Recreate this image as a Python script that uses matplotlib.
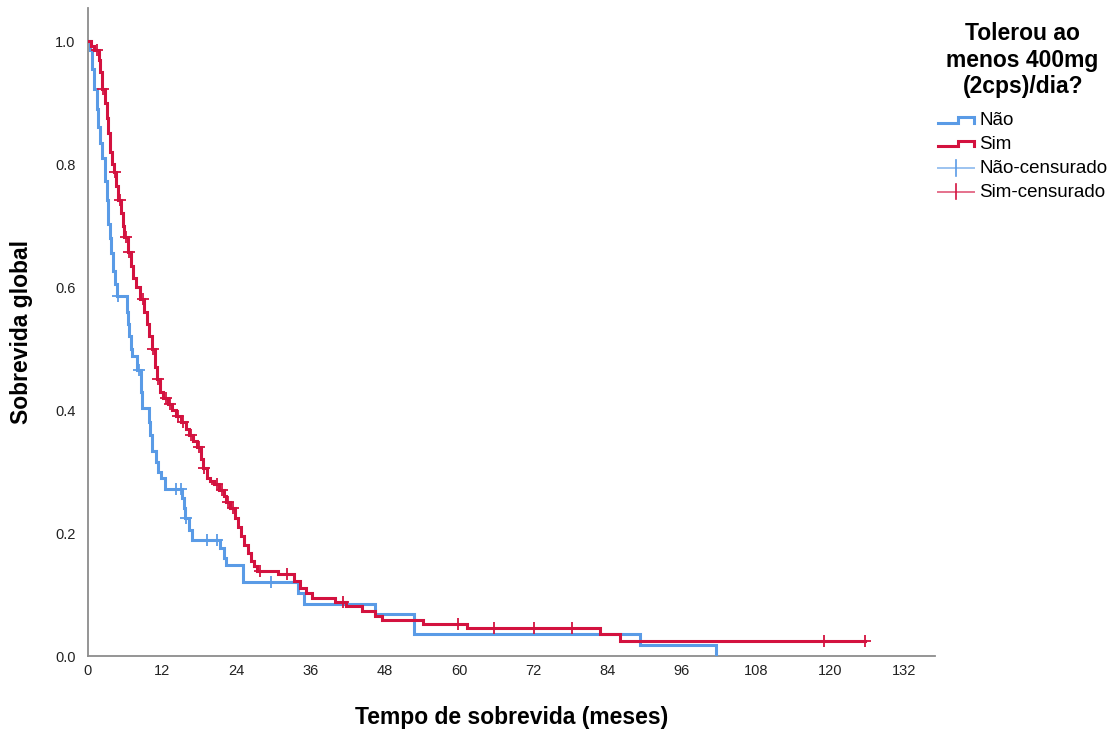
import numpy as np
import matplotlib
matplotlib.use("Agg")
import matplotlib.pyplot as plt
from matplotlib.lines import Line2D
from matplotlib.legend_handler import HandlerBase

plt.rcParams['font.family'] = ['Liberation Sans', 'DejaVu Sans']

# ---------------- data ----------------
nao_event_t = [0.3, 0.6, 0.9, 1.4, 1.6, 2.0, 2.3, 2.7, 3.0, 3.2, 3.3, 3.6, 3.8, 4.0, 4.4, 4.7,
               6.3, 6.5, 6.7, 6.9, 7.1, 8.0, 8.6, 8.8, 9.8, 10.0, 10.3, 11.0, 11.3, 11.8, 12.4,
               15.2, 15.5, 15.7, 16.3, 16.8, 21.4, 22.0, 22.3, 25.1, 34.0, 35.0, 46.4, 52.8,
               89.3, 101.5]
nao_surv = [0.985, 0.955, 0.923, 0.89, 0.86, 0.835, 0.81, 0.773, 0.741, 0.72, 0.703, 0.68, 0.656,
            0.627, 0.605, 0.585, 0.56, 0.54, 0.52, 0.50, 0.488, 0.466, 0.43, 0.404, 0.38, 0.36,
            0.334, 0.315, 0.30, 0.29, 0.272, 0.257, 0.241, 0.225, 0.205, 0.189, 0.176, 0.16,
            0.148, 0.12, 0.103, 0.085, 0.068, 0.036, 0.018, 0.0]
nao_cens_t = [4.9, 8.2, 14.3, 15.0, 15.9, 19.3, 20.8, 29.6]

sim_event_t = [0.5, 1.0, 1.8, 2.0, 2.2, 2.7, 3.0, 3.3, 3.6, 3.9, 4.2, 4.6, 4.8, 5.3, 5.6, 5.9,
               6.4, 6.9, 7.3, 7.7, 8.4, 9.1, 9.5, 9.9, 10.3, 10.8, 11.1, 11.6, 12.2, 13.0, 13.6,
               14.2, 15.0, 15.8, 16.3, 17.0, 17.6, 18.3, 18.6, 19.2, 19.8, 20.4, 21.2, 22.0,
               22.4, 23.0, 23.7, 24.2, 24.8, 25.3, 25.8, 26.3, 26.8, 27.3, 30.7, 33.3, 34.3,
               35.3, 36.3, 40.0, 41.8, 44.3, 46.4, 47.5, 54.2, 61.3, 82.8, 86.0]
sim_surv = [0.993, 0.985, 0.97, 0.95, 0.923, 0.90, 0.875, 0.85, 0.82, 0.80, 0.787, 0.765, 0.741,
            0.72, 0.70, 0.681, 0.657, 0.635, 0.615, 0.60, 0.581, 0.56, 0.54, 0.52, 0.50, 0.47,
            0.45, 0.43, 0.42, 0.41, 0.40, 0.39, 0.38, 0.37, 0.36, 0.35, 0.34, 0.32, 0.305, 0.29,
            0.285, 0.28, 0.27, 0.26, 0.25, 0.24, 0.225, 0.21, 0.195, 0.18, 0.168, 0.155, 0.147,
            0.138, 0.134, 0.122, 0.111, 0.103, 0.094, 0.088, 0.081, 0.073, 0.065, 0.058, 0.052,
            0.046, 0.036, 0.024]
sim_cens_t = [1.5, 2.4, 4.4, 5.1, 6.1, 6.6, 8.9, 10.5, 11.3, 12.6, 13.3, 14.6, 15.4, 16.6, 18.0,
              18.8, 20.9, 21.7, 22.6, 23.4, 27.8, 32.2, 41.3, 59.9, 65.7, 72.2, 78.3, 119.0, 125.6]

x_ticks = [0, 12, 24, 36, 48, 60, 72, 84, 96, 108, 120, 132]
y_ticks = [0.0, 0.2, 0.4, 0.6, 0.8, 1.0]

group_labels = ["Não", "Sim"]
cens_labels = ["Não-censurado", "Sim-censurado"]
legend_title = "Tolerou ao\nmenos 400mg\n(2cps)/dia?"
x_label = "Tempo de sobrevida (meses)"
y_label = "Sobrevida global"

BLUE = "#5a9be6"
RED = "#d3123f"

# ---------------- figure ----------------
fig = plt.figure(figsize=(11.14, 7.32), dpi=100)
ax = fig.add_axes([88 / 1114, 1 - 656 / 732, (935 - 88) / 1114, (656 - 8) / 732])


def draw_group(ev_t, surv, cens_t, color):
    ev_t = np.asarray(ev_t, float)
    surv = np.asarray(surv, float)
    end = max(ev_t[-1], max(cens_t))
    xs = np.concatenate([[0.0], ev_t, [end]])
    ys = np.concatenate([[1.0], surv, [surv[-1]]])
    ax.step(xs, ys, where='post', color=color, lw=2.2, solid_joinstyle='miter', zorder=3)
    idx = np.searchsorted(ev_t, np.asarray(cens_t), side='right') - 1
    cy = np.where(idx >= 0, surv[np.clip(idx, 0, None)], 1.0)
    ax.plot(cens_t, cy, linestyle='none', marker='+', markersize=9, mew=1.3,
            color=color, zorder=4)


draw_group(nao_event_t, nao_surv, nao_cens_t, BLUE)
draw_group(sim_event_t, sim_surv, sim_cens_t, RED)

ax.set_xlim(0, 137)
ax.set_ylim(0, 1.054)
ax.set_xticks(x_ticks)
ax.set_xticklabels([str(v) for v in x_ticks])
ax.set_yticks(y_ticks)
ax.set_yticklabels([f"{v:.1f}" for v in y_ticks])
ax.tick_params(axis='both', length=0, labelsize=10.5, colors='#222222')
ax.tick_params(axis='x', pad=6)
ax.tick_params(axis='y', pad=9)
for s in ['top', 'right']:
    ax.spines[s].set_visible(False)
for s in ['left', 'bottom']:
    ax.spines[s].set_color('#8c8c8c')
    ax.spines[s].set_linewidth(1.3)

ax.set_xlabel(x_label, fontsize=16.5, fontweight='bold', labelpad=20)
ax.set_ylabel(y_label, fontsize=16.5, fontweight='bold', labelpad=16)


# ---------------- legend ----------------
class StepHandler(HandlerBase):
    def create_artists(self, legend, orig_handle, xdescent, ydescent, width, height,
                       fontsize, trans):
        x0, x1 = -xdescent, -xdescent + width
        xm = x0 + 0.55 * width
        ylo, yhi = -ydescent + 0.2 * height, -ydescent + 0.65 * height
        ln = Line2D([x0, xm, xm, x1, x1], [ylo, ylo, yhi, yhi, ylo],
                    color=orig_handle.get_color(), lw=2.2, solid_joinstyle='miter',
                    transform=trans)
        return [ln]


class CensHandler(HandlerBase):
    def create_artists(self, legend, orig_handle, xdescent, ydescent, width, height,
                       fontsize, trans):
        x0, x1 = -xdescent, -xdescent + width
        yc = -ydescent + 0.4 * height
        h = Line2D([x0, x1], [yc, yc], color=orig_handle.get_color(), lw=1.4, alpha=0.6,
                   transform=trans)
        v = Line2D([(x0 + x1) / 2] * 2, [yc - 0.6 * height, yc + 0.6 * height],
                   color=orig_handle.get_color(), lw=1.2, transform=trans)
        return [h, v]


h_nao = Line2D([], [], color=BLUE)
h_sim = Line2D([], [], color=RED)
h_nc = Line2D([], [], color=BLUE)
h_sc = Line2D([], [], color=RED)

leg = fig.legend([h_nao, h_sim, h_nc, h_sc], group_labels + cens_labels,
                 title=legend_title, loc='upper left', bbox_to_anchor=(938 / 1114, 1 - 22 / 732),
                 frameon=False, fontsize=13.5, handlelength=1.9, handletextpad=0.3,
                 labelspacing=0.36, borderaxespad=0, borderpad=0,
                 handler_map={h_nao: StepHandler(), h_sim: StepHandler(),
                              h_nc: CensHandler(), h_sc: CensHandler()})
leg.get_title().set_fontsize(16.5)
leg.get_title().set_fontweight('bold')
leg.get_title().set_multialignment('center')
leg._legend_box.sep = 10

fig.savefig("out.png", dpi=100)
